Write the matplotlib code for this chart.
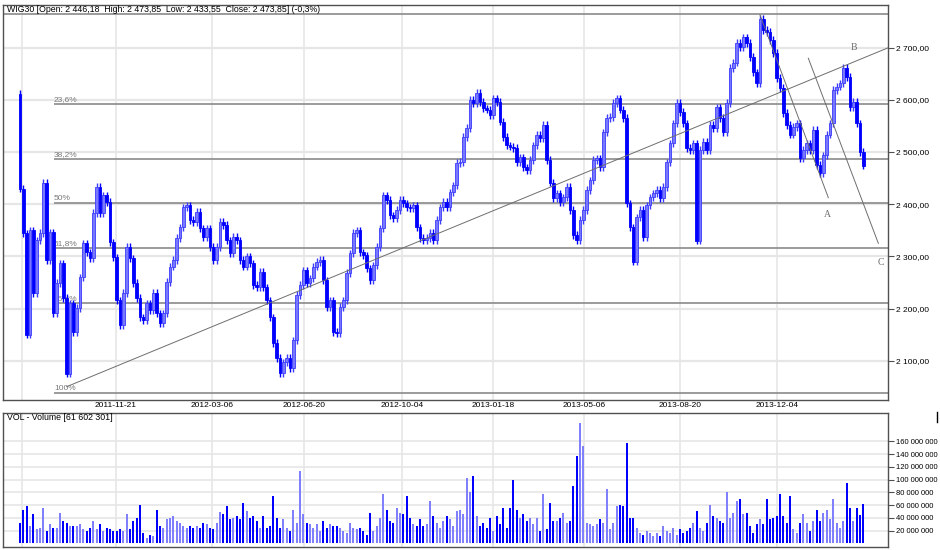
import numpy as np
import matplotlib.pyplot as plt
from matplotlib.lines import Line2D

# ── DATA (one value per ~2.5 sessions) ───────────────────────────────────────
first_open = 2612
closes = [
    2430, 2344, 2150, 2350, 2230, 2331, 2345, 2441, 2293, 2346,
    2191, 2249, 2287, 2220, 2075, 2210, 2155, 2201, 2260, 2325,
    2308, 2296, 2383, 2433, 2383, 2417, 2404, 2327, 2298, 2216,
    2168, 2230, 2318, 2296, 2249, 2220, 2183, 2178, 2210, 2197,
    2230, 2191, 2172, 2191, 2251, 2280, 2293, 2335, 2356, 2394,
    2398, 2370, 2366, 2385, 2354, 2337, 2354, 2318, 2293, 2318,
    2366, 2360, 2331, 2306,
    2337, 2331, 2293, 2280, 2300, 2287, 2245, 2241, 2270, 2241,
    2216, 2183, 2134, 2105, 2076, 2097, 2105, 2086, 2139, 2226,
    2245, 2273, 2249, 2258, 2280, 2289, 2293, 2254, 2203, 2216,
    2155, 2153, 2203, 2216, 2268, 2306, 2345, 2350, 2308, 2302,
    2277, 2254, 2283, 2318, 2354, 2417, 2408, 2379, 2373, 2389,
    2408, 2402, 2394, 2392, 2398, 2356, 2335, 2331, 2335, 2345,
    2331, 2370, 2394, 2404,
    2394, 2423, 2436, 2479, 2481, 2529, 2546, 2600, 2594, 2613,
    2596, 2584, 2581, 2571, 2603, 2596, 2558, 2529, 2513, 2510,
    2508, 2481, 2490, 2471, 2465, 2485, 2513, 2533, 2527, 2552,
    2485, 2441, 2412, 2421, 2404, 2413, 2433, 2389, 2341, 2331,
    2370, 2389, 2427, 2446, 2485, 2488, 2471, 2538, 2565, 2567,
    2594, 2603, 2581, 2565, 2402, 2356, 2290, 2375, 2389, 2337,
    2398, 2413, 2421, 2427, 2412, 2433,
    2480, 2517, 2555, 2594, 2577, 2555, 2508, 2504, 2517, 2330,
    2504, 2519, 2504, 2552, 2546, 2586, 2565, 2538, 2594, 2661,
    2671, 2709, 2701, 2720, 2709, 2682, 2653, 2632, 2755, 2734,
    2730, 2715, 2690, 2642, 2623, 2575, 2552, 2533, 2548, 2555,
    2488, 2504, 2517, 2504, 2542, 2475, 2459, 2494, 2533, 2555,
    2619, 2625, 2632, 2661, 2644, 2586, 2596, 2555, 2500, 2474,
]

# volume in millions, same slots
volume_m = [
    32, 53, 59, 27, 46, 22, 25, 56, 19, 30,
    25, 25, 48, 35, 32, 27, 27, 27, 30, 22,
    19, 25, 35, 22, 30, 19, 25, 22, 19, 19,
    22, 19, 46, 22, 35, 40, 61, 17, 9, 14,
    12, 53, 27, 25, 38, 40, 43, 35, 32, 27,
    25, 27, 25, 27, 25, 32, 30, 25, 22, 32,
    50, 46, 59, 38, 40, 43, 38, 64, 51, 40,
    43, 35, 25, 43, 25, 27, 74, 40, 25, 38,
    25, 19, 53, 32, 113, 46, 32, 30, 25, 30,
    19, 35, 25, 30, 27, 27, 25, 19, 17, 32,
    25, 22, 25, 19, 14, 48, 19, 27, 40, 77,
    53, 35, 32, 56, 48, 46, 74, 40, 30, 27,
    38, 27, 30, 66, 43, 32, 25, 35, 43, 38,
    27, 51, 53, 46, 103, 80, 106, 43, 27, 32,
    25, 40, 19, 43, 30, 56, 25, 56, 100, 53,
    40, 46, 35, 40, 30, 40, 19, 77, 22, 64,
    35, 35, 40, 48, 32, 35, 90, 137, 189, 153,
    32, 30, 27, 30, 38, 32, 85, 22, 32, 59,
    61, 59, 158, 40, 40, 25, 17, 14, 19, 17,
    12, 17, 12, 27, 19, 17, 25, 14, 22, 17,
    19, 25, 32, 51, 25, 19, 32, 61, 43, 40,
    35, 32, 80, 40, 48, 66, 69, 46, 48, 27,
    17, 30, 38, 30, 69, 38, 40, 43, 77, 43,
    32, 74, 22, 17, 32, 46, 32, 19, 35, 53,
    35, 48, 53, 38, 69, 32, 25, 35, 95, 56,
    35, 56, 45, 61.6,
]

tick_slots = [0.5, 28.7, 57.6, 85.3, 114.5, 141.8, 169.3, 198.1, 227.0]
tick_labels = ['', '2011-11-21', '2012-03-06', '2012-06-20', '2012-10-04',
               '2013-01-18', '2013-05-06', '2013-08-20', '2013-12-04']

price_ticks = [2100, 2200, 2300, 2400, 2500, 2600, 2700]
vol_ticks_m = [20, 40, 60, 80, 100, 120, 140, 160]

fib_high, fib_low = 2764.0, 2038.7
fib_ratios = [0.236, 0.382, 0.5, 0.618, 0.764, 1.0]
fib_labels = ['23,6%', '38,2%', '50%', '61,8%', '76,4%', '100%']

trend_lines = [((14.0, 2050.2), (260.5, 2700.0)),
               ((222.0, 2762.7), (242.5, 2412.5)),
               ((236.5, 2679.7), (257.5, 2325.0))]
wave_labels = [('A', 242.2, 2381), ('B', 250.2, 2700), ('C', 258.3, 2288)]

header = 'WIG30 [Open: 2 446,18  High: 2 473,85  Low: 2 433,55  Close: 2 473,85] (-0,3%)'
vol_header = 'VOL - Volume [61 602 301]'

# ── PLOT ──────────────────────────────────────────────────────────────────────
plt.rcParams['font.family'] = ['Liberation Sans', 'DejaVu Sans']

closes = np.array(closes, dtype=float)
vol = np.array(volume_m) * 1e6
x = np.arange(len(closes))
opens = np.r_[first_open, closes[:-1]]
up = closes >= opens
lo = np.minimum(opens, closes)
hi = np.maximum(opens, closes)

dark = '#0000ff'
light_face = '#7878ff'
light_edge = '#3c3cff'
frame = '#505050'
grid_c = '#e6e6e6'
fib_c = '#8a8a8a'

W, H = 940, 550
fig = plt.figure(figsize=(9.4, 5.5), dpi=100)
ax = fig.add_axes([3 / W, 1 - 400 / H, 885 / W, 395.3 / H])
axv = fig.add_axes([3 / W, 1 - 546.7 / H, 885 / W, 133.4 / H])

xlim = (-5.1, 260.4)

# main panel
ax.set_xlim(*xlim)
ax.set_ylim(2024.7, 2782.4)
for y in price_ticks:
    ax.axhline(y, color=grid_c, lw=1.6, zorder=0)
for t in tick_slots:
    ax.axvline(t, color=grid_c, lw=1.2, zorder=0)

# fibonacci retracement
ax.axhline(fib_high, color=fib_c, lw=1.2, zorder=1)
for r, lab in zip(fib_ratios, fib_labels):
    lvl = fib_high - r * (fib_high - fib_low)
    ax.hlines(lvl, 10.2, xlim[1], color=fib_c, lw=1.2, zorder=1)
    ax.text(10.2, lvl + 2, lab, fontsize=6, color='#7a7a7a', va='bottom', ha='left', zorder=1)

# candles
wick = 7
cols = np.where(up, light_edge, dark)
faces = np.where(up, light_face, dark)
ax.vlines(x, lo - wick, hi + wick, colors=cols, lw=1.0, zorder=2)
ax.bar(x, hi - lo, bottom=lo, width=0.85, color=faces, edgecolor=cols, lw=0.6, zorder=3)

# trend lines and wave labels
for (x0, y0), (x1, y1) in trend_lines:
    ax.plot([x0, x1], [y0, y1], color='#6e6e6e', lw=0.7, zorder=4)
for lab, lx, ly in wave_labels:
    ax.text(lx, ly, lab, fontsize=7, color='#6e6e6e', family='Liberation Serif',
            ha='center', va='center', zorder=4)

ax.yaxis.tick_right()
ax.set_yticks(price_ticks)
ax.set_yticklabels([f'{v:,.2f}'.replace(',', ' ').replace('.', ',') for v in price_ticks])
ax.set_xticks(tick_slots)
ax.set_xticklabels(tick_labels)
ax.tick_params(axis='y', length=4, width=0.8, color=frame, labelsize=6, pad=2)
ax.tick_params(axis='x', length=0, labelsize=6, pad=1.5)
for s in ax.spines.values():
    s.set_color(frame)
    s.set_linewidth(1)

# volume panel
axv.set_xlim(*xlim)
axv.set_ylim(-5.1e6, 204.2e6)
for v in vol_ticks_m:
    axv.axhline(v * 1e6, color=grid_c, lw=1.2, zorder=0)
for t in tick_slots:
    axv.axvline(t, color=grid_c, lw=1.2, zorder=0)
axv.bar(x, vol, width=0.6, color=np.where(up, '#8080ff', dark), lw=0, zorder=2)
axv.yaxis.tick_right()
axv.set_yticks([v * 1e6 for v in vol_ticks_m])
axv.set_yticklabels([f'{v * 1000000:,d}'.replace(',', ' ') for v in vol_ticks_m])
axv.set_xticks(tick_slots)
axv.set_xticklabels([])
axv.tick_params(axis='y', length=4, width=0.8, color=frame, labelsize=5.5, pad=1.5)
axv.tick_params(axis='x', length=0)
for s in axv.spines.values():
    s.set_color(frame)
    s.set_linewidth(1)

fig.text(6.7 / W, 1 - 9.5 / H, header, fontsize=6.3, va='center', ha='left')
fig.text(6.7 / W, 1 - 418 / H, vol_header, fontsize=6.3, va='center', ha='left')
fig.add_artist(Line2D([937 / W, 937 / W], [1 - 412 / H, 1 - 422 / H], color='k', lw=1))

fig.savefig('out.png', dpi=100)
